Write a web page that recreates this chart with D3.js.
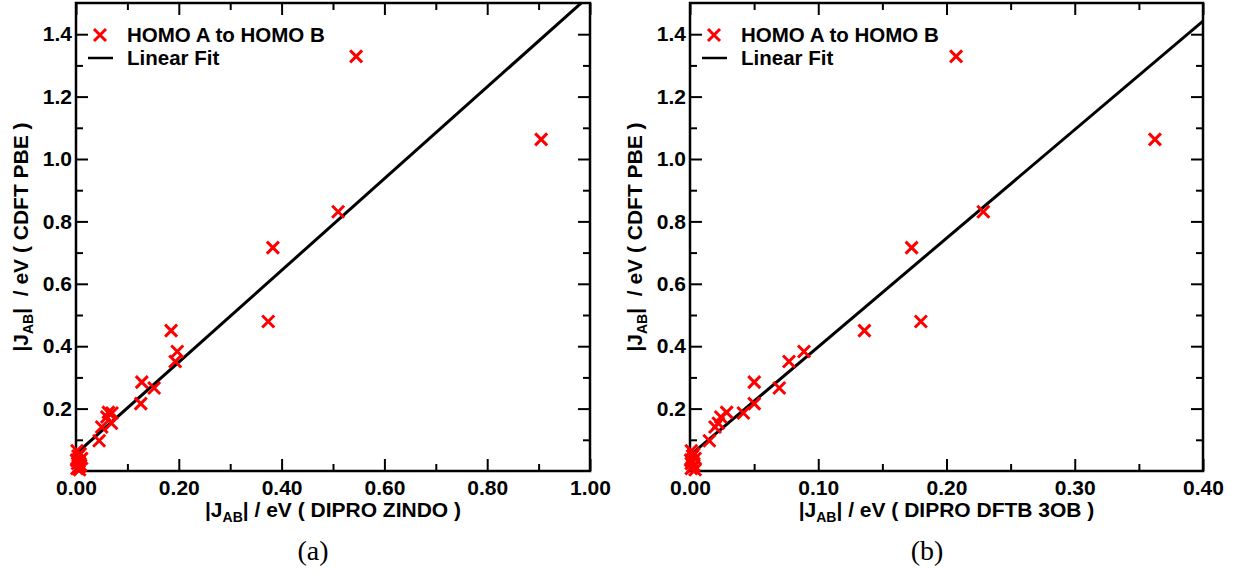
<!DOCTYPE html>
<html>
<head>
<meta charset="utf-8">
<script src="https://cdn.jsdelivr.net/npm/d3@7"></script>
<style>
  html, body { margin: 0; padding: 0; background: #fff; }
  svg { display: block; }
  text { font-family: "Liberation Sans", Arial, Helvetica, sans-serif; font-weight: bold; fill: #000; }
</style>
</head>
<body>
<svg id="chart" width="1247" height="581"></svg>
<script>
// ---------------- DATA ----------------
// |J_AB| CDFT PBE (y, shared by both panels)
const yPBE = [1.329, 1.063, 0.831, 0.716, 0.479, 0.450, 0.383, 0.351, 0.285, 0.266, 0.216,
              0.188, 0.186, 0.173, 0.153, 0.141, 0.097,
              0.065, 0.055, 0.048, 0.040, 0.035, 0.030, 0.024, 0.018, 0.012, 0.008, 0.004];
// |J_AB| DIPRO ZINDO (x, panel a)
const xZINDO = [0.545, 0.905, 0.510, 0.383, 0.374, 0.185, 0.197, 0.193, 0.128, 0.152, 0.126,
                0.063, 0.070, 0.060, 0.069, 0.050, 0.045,
                0.002, 0.008, 0.004, 0.011, 0.001, 0.006, 0.003, 0.009, 0.005, 0.002, 0.007];
// |J_AB| DIPRO DFTB 3OB (x, panel b)
const xDFTB = [0.2075, 0.3625, 0.2287, 0.1728, 0.180, 0.136, 0.0889, 0.0772, 0.0501, 0.0696, 0.0501,
               0.0286, 0.0416, 0.024, 0.0221, 0.0195, 0.0151,
               0.001, 0.003, 0.002, 0.004, 0.0005, 0.002, 0.001, 0.003, 0.002, 0.001, 0.004];

// linear fits [intercept, slope]
const fitA = [0.055, 1.47];
const fitB = [0.05, 3.48];

// axis domains and ticks
const yDomain = [0, 1.5];
const yMajor = [0.2, 0.4, 0.6, 0.8, 1.0, 1.2, 1.4];
const yMinor = [0.1, 0.3, 0.5, 0.7, 0.9, 1.1, 1.3];
const xDomainA = [0, 1.0];
const xMajorA = [0.0, 0.2, 0.4, 0.6, 0.8, 1.0];
const xMinorA = [0.1, 0.3, 0.5, 0.7, 0.9];
const xDomainB = [0, 0.4];
const xMajorB = [0.0, 0.1, 0.2, 0.3, 0.4];
const xMinorB = [0.05, 0.15, 0.25, 0.35];

const legendLabels = ["HOMO A to HOMO B", "Linear Fit"];
const xTitleA = "( DIPRO ZINDO )";
const xTitleB = "( DIPRO DFTB 3OB )";
const yTitleTail = "( CDFT PBE )";
const captions = ["(a)", "(b)"];

// ---------------- DRAW ----------------
const svg = d3.select("#chart");
const RED = "#ff0000";

function panel(opts) {
  const { left, right, top, bottom, xDomain, xMajor, xMinor, xs, fit, xTitle, caption, capX, id } = opts;
  const x = d3.scaleLinear().domain(xDomain).range([left, right]);
  const y = d3.scaleLinear().domain(yDomain).range([bottom, top]);
  const g = svg.append("g");

  svg.append("clipPath").attr("id", "clip" + id)
    .append("rect").attr("x", left).attr("y", top).attr("width", right - left).attr("height", bottom - top);

  const styleAxis = sel => {
    sel.select(".domain").remove();
    sel.selectAll(".tick line").attr("stroke", "#000").attr("stroke-width", 2);
    sel.selectAll(".tick text").style("font-size", "21px").style("font-family", "'Liberation Sans', Arial, sans-serif").style("font-weight", "bold");
  };

  // bottom
  g.append("g").attr("transform", `translate(0,${bottom})`)
    .call(d3.axisBottom(x).tickValues(xMajor).tickSize(-12).tickPadding(9).tickFormat(d3.format(".2f")))
    .call(styleAxis);
  g.append("g").attr("transform", `translate(0,${bottom})`)
    .call(d3.axisBottom(x).tickValues(xMinor).tickSize(-7).tickFormat(""))
    .call(styleAxis);
  // top
  g.append("g").attr("transform", `translate(0,${top})`)
    .call(d3.axisTop(x).tickValues(xMajor).tickSize(-12).tickFormat(""))
    .call(styleAxis);
  g.append("g").attr("transform", `translate(0,${top})`)
    .call(d3.axisTop(x).tickValues(xMinor).tickSize(-7).tickFormat(""))
    .call(styleAxis);
  // left
  g.append("g").attr("transform", `translate(${left},0)`)
    .call(d3.axisLeft(y).tickValues(yMajor).tickSize(-12).tickPadding(4).tickFormat(d3.format(".1f")))
    .call(styleAxis);
  g.append("g").attr("transform", `translate(${left},0)`)
    .call(d3.axisLeft(y).tickValues(yMinor).tickSize(-7).tickFormat(""))
    .call(styleAxis);
  // right
  g.append("g").attr("transform", `translate(${right},0)`)
    .call(d3.axisRight(y).tickValues(yMajor).tickSize(-12).tickFormat(""))
    .call(styleAxis);
  g.append("g").attr("transform", `translate(${right},0)`)
    .call(d3.axisRight(y).tickValues(yMinor).tickSize(-7).tickFormat(""))
    .call(styleAxis);

  // frame
  g.append("rect").attr("x", left).attr("y", top).attr("width", right - left).attr("height", bottom - top)
    .attr("fill", "none").attr("stroke", "#000").attr("stroke-width", 2.5);

  // fit line
  const line = d3.line().x(d => x(d)).y(d => y(fit[0] + fit[1] * d));
  g.append("path").datum(xDomain).attr("d", line)
    .attr("clip-path", `url(#clip${id})`)
    .attr("fill", "none").attr("stroke", "#000").attr("stroke-width", 3);

  // markers
  const s = 6;
  const pts = xs.map((v, i) => [v, yPBE[i]]);
  g.append("g").selectAll("path").data(pts).join("path")
    .attr("d", d => {
      const cx = x(d[0]), cy = y(d[1]);
      return `M${cx - s},${cy - s}L${cx + s},${cy + s}M${cx - s},${cy + s}L${cx + s},${cy - s}`;
    })
    .attr("stroke", RED).attr("stroke-width", 3).attr("fill", "none");

  // legend
  const lx = left + 24, ly = top + 32;
  g.append("path").attr("d", `M${lx - s},${ly - s}L${lx + s},${ly + s}M${lx - s},${ly + s}L${lx + s},${ly - s}`)
    .attr("stroke", RED).attr("stroke-width", 3);
  g.append("text").attr("x", left + 51).attr("y", top + 39).style("font-size", "20.5px").text(legendLabels[0]);
  g.append("line").attr("x1", left + 12).attr("x2", left + 37).attr("y1", top + 55).attr("y2", top + 55)
    .attr("stroke", "#000").attr("stroke-width", 2.5);
  g.append("text").attr("x", left + 51).attr("y", top + 62).style("font-size", "20.5px").text(legendLabels[1]);

  // x title
  const xt = g.append("text").attr("x", (left + right) / 2).attr("y", 517)
    .attr("text-anchor", "middle").style("font-size", "21px").style("white-space", "pre");
  xt.append("tspan").text("|J");
  xt.append("tspan").attr("dy", 5).style("font-size", "14px").text("AB");
  xt.append("tspan").attr("dy", -5).text("| / eV " + xTitle);

  // y title
  const yt = g.append("text").attr("transform", `translate(${left - 48},${(top + bottom) / 2}) rotate(-90)`)
    .attr("text-anchor", "middle").style("font-size", "21px").style("white-space", "pre");
  yt.append("tspan").text("|J");
  yt.append("tspan").attr("dy", 5).style("font-size", "14px").text("AB");
  yt.append("tspan").attr("dy", -5).text("|  / eV " + yTitleTail);

  // caption
  svg.append("text").attr("x", capX).attr("y", 560).attr("text-anchor", "middle")
    .style("font-family", "'Liberation Serif', 'Times New Roman', serif").style("font-weight", "normal")
    .style("font-size", "28px").text(caption);
}

panel({ id: "a", left: 76, right: 590, top: 3, bottom: 471, xDomain: xDomainA, xMajor: xMajorA, xMinor: xMinorA,
        xs: xZINDO, fit: fitA, xTitle: xTitleA, caption: captions[0], capX: 313 });
panel({ id: "b", left: 690, right: 1203, top: 3, bottom: 471, xDomain: xDomainB, xMajor: xMajorB, xMinor: xMinorB,
        xs: xDFTB, fit: fitB, xTitle: xTitleB, caption: captions[1], capX: 927 });
</script>
</body>
</html>
